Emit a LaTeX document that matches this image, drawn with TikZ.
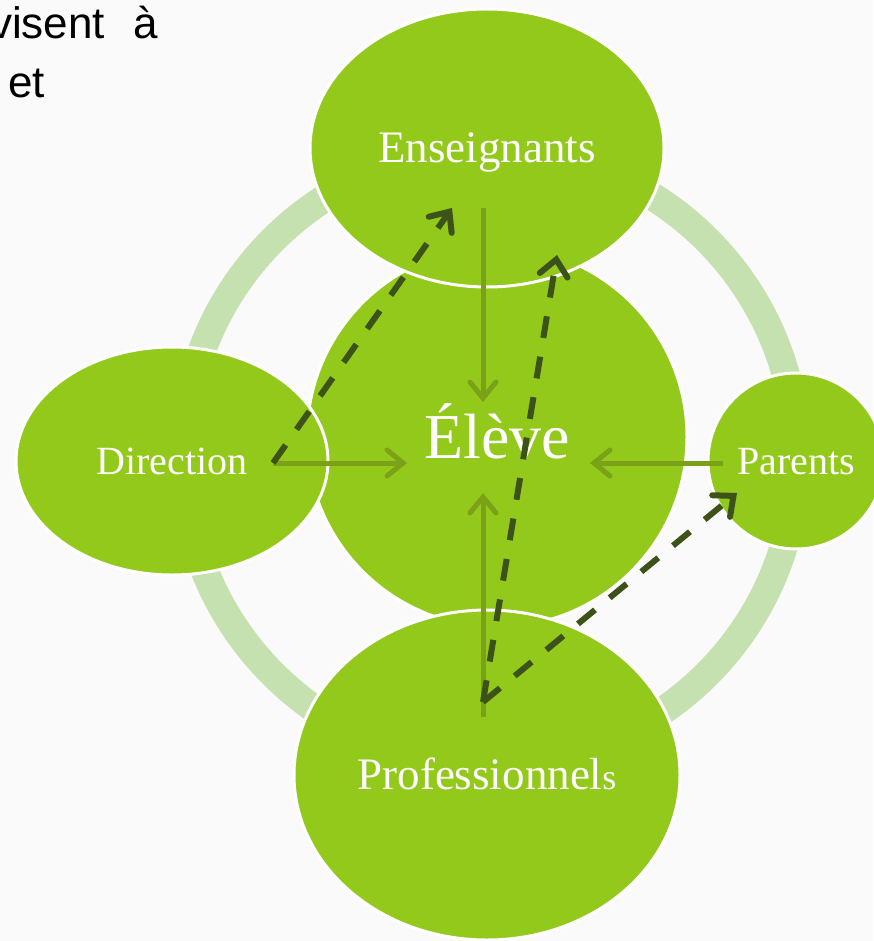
\documentclass[tikz,border=0pt]{standalone}
\usepackage{fontspec}
\setmainfont{Liberation Serif}
\newfontfamily\slidefont{Liberation Sans}
\usetikzlibrary{shapes.geometric,arrows.meta,positioning,calc}
\definecolor{bubblecolor}{HTML}{92C91A}
\definecolor{ringcolor}{HTML}{C6E1B0}
\definecolor{flowcolor}{HTML}{7AA117}
\definecolor{linkcolor}{HTML}{3D5219}
\definecolor{pagecolor}{HTML}{FAFAFA}

\begin{document}
\begin{tikzpicture} [
			x=1pt,y=-1pt,
			bubble/.style={ellipse,fill=bubblecolor,draw=white,line width=3pt,text=white,text depth=0pt,inner sep=0pt},
			bigtext/.style={font=\fontsize{45}{50}\selectfont,text height=29pt},
			midtext/.style={font=\fontsize{40}{46}\selectfont,text height=26pt},
			flow/.style={-{Straight Barb[length=16pt,width=26pt,line cap=round]},draw=flowcolor,line width=5pt},
			link/.style={-{Straight Barb[length=16pt,width=28pt,line cap=round]},draw=linkcolor,line width=6pt,dash pattern=on 22pt off 19pt},
			slidetext/.style={anchor=base west,inner sep=0pt,font=\slidefont\fontsize{44}{50}\selectfont},
		]
		
		\useasboundingbox (0,0) rectangle (873,941);
		\fill[pagecolor] (0,0) rectangle (873,941);
		
		% ring behind the bubbles
		\draw[ringcolor,line width=28pt] (490,457) circle[radius=307];
		
		\node[bubble,minimum width=380pt,minimum height=380pt,font=\fontsize{64}{70}\selectfont,text height=42pt] (eleve) at (497,437) {Élève};
		\node[bubble,bigtext,minimum width=354pt,minimum height=278pt] (enseignants) at (487,148) {Enseignants};
		\node[bubble,midtext,minimum width=312pt,minimum height=228pt] (direction) at (172,461) {Direction};
		\node[bubble,midtext,minimum width=176pt,minimum height=176pt] (parents) at (796,461) {Parents};
		\node[bubble,bigtext,minimum width=386pt,minimum height=330pt] (professionnels) at (487,775) {Professionnel{\fontsize{36}{36}\selectfont s}};
		
		\node[slidetext] (visent) at (-10,39) {visent\hspace{28pt}à};
		\node[slidetext] (et) at (8,98) {et};
		
		\node[coordinate] (dir-out) at (273,463) {};
		\node[coordinate] (ens-out) at (483,208) {};
		\node[coordinate] (par-out) at (723,463) {};
		\node[coordinate] (pro-out) at (483,717) {};
		\node[coordinate] (pro-link) at (483,702) {};
		\node[coordinate] (eleve-w) at (407,463) {};
		\node[coordinate] (eleve-n) at (483,402) {};
		\node[coordinate] (eleve-e) at (590,463) {};
		\node[coordinate] (eleve-s) at (483,493) {};
		\node[coordinate] (ens-left) at (452,208) {};
		\node[coordinate] (ens-right) at (557,255) {};
		\node[coordinate] (par-in) at (737,493) {};
		
		\draw[flow] (ens-out) -- (eleve-n);
		\draw[flow] (dir-out) -- (eleve-w);
		\draw[flow] (par-out) -- (eleve-e);
		\draw[flow] (pro-out) -- (eleve-s);
		
		\draw[link] (dir-out) -- (ens-left);
		\draw[link] (pro-link) -- (ens-right);
		\draw[link] (pro-link) -- (par-in);
		
	\end{tikzpicture}
\end{document}
